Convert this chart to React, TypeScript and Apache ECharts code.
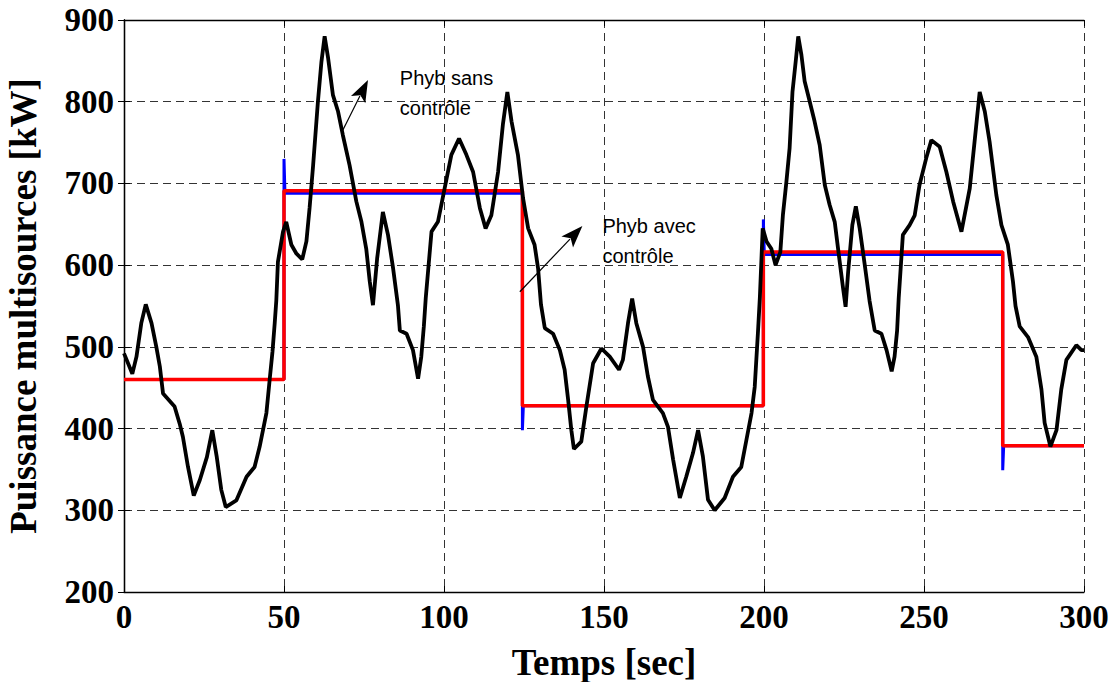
import React, { useEffect, useRef } from "react";
import * as echarts from "echarts";

// Black curve: Phyb sans contrôle
const sansX = [0, 2.6, 3.9, 5.4, 6.8, 8.6, 10.1, 11.2, 12.2, 15.8, 17.4, 18.4, 20, 21.8, 23.7, 25.9, 27.6, 29, 30.4, 31.8, 35.1, 38.3, 40.8, 42.4, 44.5, 45.5, 46.4, 47.1, 47.6, 48.1, 49.7, 50.7, 52.3, 53.9, 55.7, 57, 58, 59.1, 60.6, 61.7, 62.7, 63.8, 65.3, 66.9, 68.4, 70.5, 72.6, 74.2, 75.7, 76.8, 77.8, 79.1, 80.9, 82.5, 84.1, 85.6, 86.2, 88.3, 90.3, 91.9, 92.9, 93.7, 94.3, 96.1, 98.1, 100.2, 102.3, 104.7, 107, 109.1, 111.2, 113, 114.8, 116.9, 118.4, 119.8, 121.1, 123.1, 124.7, 126.3, 128.3, 129.4, 130.3, 131.5, 134.1, 136.2, 137.7, 138.8, 139.8, 140.6, 142.9, 144.5, 146.6, 149.2, 151.8, 154.7, 155.9, 157.5, 158.8, 160.1, 162.2, 163.7, 165.3, 168.4, 170, 171.6, 173.7, 175.7, 177.8, 179.4, 180.9, 182.5, 184.6, 187.7, 190.3, 192.9, 194.5, 196.1, 197.1, 198.1, 198.7, 199.6, 200.8, 202.3, 203.6, 205.1, 205.9, 207, 208, 208.9, 209.9, 210.7, 211.7, 212.7, 214.3, 215.8, 217.4, 219, 220.5, 222.1, 223.4, 224.7, 225.5, 226.3, 227.6, 228.7, 229.9, 231.5, 233, 234.6, 236.7, 238.3, 239.9, 240.8, 241.6, 242.1, 243.4, 245.5, 247.1, 248.6, 250.7, 252.3, 254.9, 257, 259.1, 261.7, 264.3, 265.8, 267.4, 269, 270.5, 272.6, 274.2, 276.2, 277.8, 278.6, 279.9, 282.5, 285.1, 286.7, 287.7, 289.5, 291.4, 292.9, 294.5, 297.6, 299.2, 300];
const sansY = [492, 467, 488, 529, 552, 529, 500, 476, 443, 427, 406, 390, 353, 318, 337, 365, 398, 365, 325, 304, 312, 341, 353, 378, 419, 459, 494, 529, 557, 604, 641, 653, 625, 614, 607, 629, 670, 722, 800, 849, 880, 853, 808, 788, 759, 722, 678, 653, 620, 580, 551, 608, 665, 637, 596, 551, 520, 516, 496, 461, 488, 525, 560, 641, 653, 694, 735, 755, 735, 714, 670, 645, 661, 714, 772, 812, 776, 735, 682, 645, 625, 596, 552, 523, 516, 496, 472, 435, 398, 375, 384, 427, 480, 498, 488, 472, 484, 529, 559, 529, 500, 464, 435, 419, 402, 362, 315, 341, 370, 398, 366, 313, 300, 315, 341, 353, 386, 419, 451, 517, 560, 645, 629, 620, 600, 616, 661, 702, 743, 812, 849, 880, 857, 825, 800, 776, 747, 698, 674, 653, 612, 572, 549, 592, 649, 672, 645, 600, 556, 520, 516, 496, 470, 488, 520, 560, 637, 649, 661, 698, 731, 753, 745, 714, 678, 641, 694, 751, 812, 788, 751, 686, 649, 625, 580, 550, 525, 512, 488, 448, 407, 378, 398, 448, 484, 502, 496, 496];

// Red step: Phyb avec contrôle
const avecX = [0, 50, 50, 124.5, 124.5, 199.8, 199.8, 274.6, 274.6, 300];
const avecY = [460, 460, 691, 691, 428, 428, 616, 616, 379, 379];

// Blue reference with overshoots
const refX = [0, 50, 50, 50.3, 124.5, 124.5, 124.8, 199.8, 199.8, 200.1, 274.6, 274.6, 274.9, 300];
const refY = [460, 460, 730, 688, 688, 398, 428, 428, 656, 613, 613, 349, 379, 379];

const xTicks = { min: 0, max: 300, interval: 50 };
const yTicks = { min: 200, max: 900, interval: 100 };

const annotations = [
  { text: "Phyb sans\ncontrôle", at: [86.2, 847.4], from: [68.4, 765.4], to: [76.25, 826.6] },
  { text: "Phyb avec\ncontrôle", at: [149.5, 666.2], from: [123.7, 567.4], to: [143.25, 647.9] },
];

const zip = (xs: number[], ys: number[]) => xs.map((x, i) => [x, ys[i]]);

export default function App() {
  const ref = useRef<HTMLDivElement>(null);
  useEffect(() => {
    if (!ref.current) return;
    const chart = echarts.init(ref.current, null, { renderer: "svg" });
    const serif = "'Liberation Serif', 'Times New Roman', serif";
    const gridLine = { show: true, lineStyle: { color: "#333", type: [8, 5] as any, width: 1 } };
    const tick = { show: true, inside: true, length: 6, lineStyle: { color: "#000" } };
    const line = { show: true, lineStyle: { color: "#000", width: 1.3 } };
    chart.setOption({
      animation: false,
      backgroundColor: "#fff",
      grid: { left: 124, right: 33, top: 20, bottom: 90, containLabel: false, outerBoundsMode: "none" },
      xAxis: [
        {
          type: "value", ...xTicks, axisLine: line, axisTick: tick, splitLine: gridLine,
          axisLabel: { color: "#000", fontFamily: serif, fontWeight: "bold", fontSize: 33, margin: 8 },
          name: "Temps [sec]", nameLocation: "middle", nameGap: 52,
          nameTextStyle: { color: "#000", fontFamily: serif, fontWeight: "bold", fontSize: 37 },
        },
        { type: "value", position: "top", ...xTicks, axisLine: line, axisTick: tick, splitLine: { show: false }, axisLabel: { show: false } },
      ],
      yAxis: [
        {
          type: "value", ...yTicks, axisLine: line, axisTick: tick, splitLine: gridLine,
          axisLabel: { color: "#000", fontFamily: serif, fontWeight: "bold", fontSize: 33, margin: 10 },
          name: "Puissance multisources [kW]", nameLocation: "middle", nameGap: 82,
          nameTextStyle: { color: "#000", fontFamily: serif, fontWeight: "bold", fontSize: 37 },
        },
        { type: "value", position: "right", ...yTicks, axisLine: line, axisTick: tick, splitLine: { show: false }, axisLabel: { show: false } },
      ],
      series: [
        { type: "line", data: zip(refX, refY), showSymbol: false, symbol: "none", lineStyle: { color: "#0000ff", width: 3 } },
        { type: "line", data: zip(avecX, avecY), showSymbol: false, symbol: "none", lineStyle: { color: "#ff0000", width: 3.5 } },
        { type: "line", data: zip(sansX, sansY), showSymbol: false, symbol: "none", lineStyle: { color: "#000", width: 3.8 } },
      ],
    });

    const graphics: any[] = [];
    annotations.forEach((a) => {
      const p = chart.convertToPixel({ gridIndex: 0 }, a.at) as number[];
      const s = chart.convertToPixel({ gridIndex: 0 }, a.from) as number[];
      const t = chart.convertToPixel({ gridIndex: 0 }, a.to) as number[];
      graphics.push({
        type: "text", x: p[0], y: p[1], z: 100,
        style: { text: a.text, fill: "#000", font: "20px 'Liberation Sans', Arial, sans-serif", lineHeight: 30, verticalAlign: "top" },
      });
      const dx = t[0] - s[0], dy = t[1] - s[1];
      const len = Math.hypot(dx, dy);
      const ux = dx / len, uy = dy / len;
      const L = 22, W = 8;
      const bx = t[0] - ux * L, by = t[1] - uy * L;
      const nx = -uy, ny = ux;
      graphics.push({ type: "line", z: 100, shape: { x1: s[0], y1: s[1], x2: bx + ux * 4, y2: by + uy * 4 }, style: { stroke: "#000", lineWidth: 1.2 } });
      graphics.push({
        type: "polygon", z: 100,
        shape: { points: [[t[0], t[1]], [bx + nx * W, by + ny * W], [bx + ux * 5, by + uy * 5], [bx - nx * W, by - ny * W]] },
        style: { fill: "#000" },
      });
    });
    chart.setOption({ graphic: graphics });
    return () => chart.dispose();
  }, []);
  return <div ref={ref} style={{ position: "fixed", left: 0, top: 0, width: 1117, height: 682, background: "#fff" }} />;
}
